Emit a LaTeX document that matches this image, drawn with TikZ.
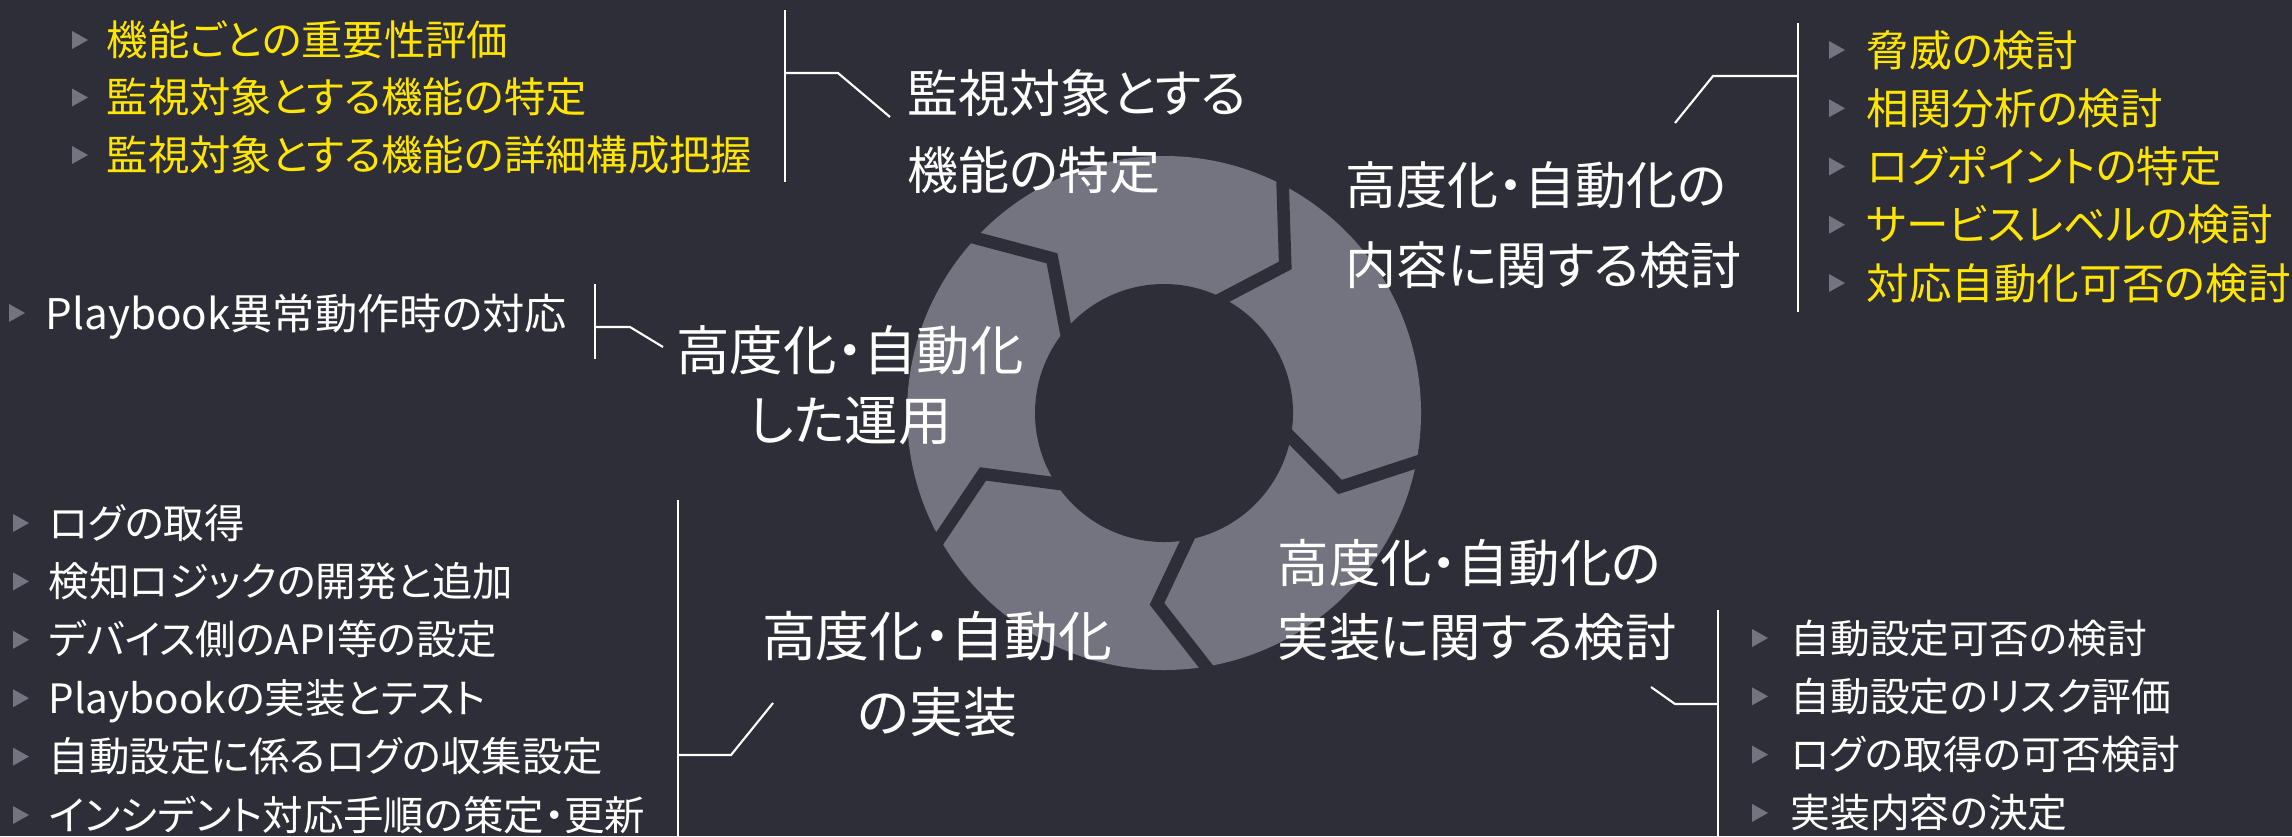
\documentclass[tikz,border=0pt]{standalone}
\usepackage{fontspec}
\usetikzlibrary{calc}
\newfontfamily\jp[RawFeature=+palt]{Noto Sans CJK JP}
\definecolor{bgdark}{HTML}{2E2E38}
\definecolor{ringgray}{HTML}{747480}
\definecolor{eyyellow}{HTML}{FFE600}
\tikzset{
  item/.style={anchor=base west, inner sep=0pt},
  yitem/.style={item, text=eyyellow},
  witem/.style={item, text=white},
  mainlabel/.style={text=white, inner sep=0pt},
  conn/.style={draw=white, line width=0.6pt},
  gapline/.style={draw=bgdark, line width=3.56pt, line join=miter},
  bullet/.pic={\fill[ringgray] (0,9) -- (16,0) -- (0,-9) -- cycle;}
}
\begin{document}
\begin{tikzpicture}[x=0.01cm,y=0.01cm]
\fill[bgdark] (0,0) rectangle (2292,-836);
\useasboundingbox (0,0) rectangle (2292,-836);

% ring
\coordinate (c) at (1164,-413);
\fill[ringgray] (c) circle[radius=257];
\fill[bgdark] (c) circle[radius=129];
\foreach \o/\m/\i [count=\k] in {62.5/50.6/62.9, -11/-22.8/-10.8, -80.6/-92.1/-79.6, -150.8/-161.4/-146.9, 137.1/125.9/139.7}{
  \coordinate (go\k) at ($(c)+(\o:257)$);
  \coordinate (gm\k) at ($(c)+(\m:191)$);
  \coordinate (gi\k) at ($(c)+(\i:129)$);
  \draw[gapline] ($(gm\k)!1.5!(go\k)$) -- (gm\k) -- ($(gm\k)!1.6!(gi\k)$);
}

% main labels
\node[mainlabel, anchor=west, align=left, font=\jp\fontsize{14.5pt}{21.9pt}\selectfont] (l1) at (907,-131.5) {監視対象とする\\機能の特定};
\node[mainlabel, anchor=west, align=left, font=\jp\fontsize{14.5pt}{22.8pt}\selectfont] (l2) at (1345,-225) {高度化・自動化の\\内容に関する検討};
\node[mainlabel, anchor=center, align=center, font=\jp\fontsize{15.2pt}{19.9pt}\selectfont] (l3) at (850,-385) {高度化・自動化\\した運用};
\node[mainlabel, anchor=center, align=center, font=\jp\fontsize{15.3pt}{21.6pt}\selectfont] (l4) at (937,-674) {高度化・自動化\\の実装};
\node[mainlabel, anchor=west, align=left, font=\jp\fontsize{14.6pt}{21pt}\selectfont] (l5) at (1277,-600) {高度化・自動化の\\実装に関する検討};

% top-left list
\foreach \t [count=\k] in {機能ごとの重要性評価, 監視対象とする機能の特定, 監視対象とする機能の詳細構成把握}{
  \pgfmathsetmacro{\yy}{-40-57.5*(\k-1)}
  \pic at (72,\yy) {bullet};
  \node[yitem, font=\jp\fontsize{11.75pt}{14pt}\selectfont] (a\k) at (106,\yy-15) {\t};
}
% top-right list
\foreach \t [count=\k] in {脅威の検討, 相関分析の検討, ログポイントの特定, サービスレベルの検討, 対応自動化可否の検討}{
  \pgfmathsetmacro{\yy}{-50-58.25*(\k-1)}
  \pic at (1829,\yy) {bullet};
  \node[yitem, font=\jp\fontsize{12.1pt}{14pt}\selectfont] (b\k) at (1866,\yy-16) {\t};
}
% left-middle
\pic at (9,-313) {bullet};
\node[witem, font=\jp\fontsize{12pt}{14pt}\selectfont] (p1) at (45,-329) {Playbook異常動作時の対応};
% bottom-left list
\foreach \t [count=\k] in {ログの取得, 検知ロジックの開発と追加, デバイス側のAPI等の設定, Playbookの実装とテスト, 自動設定に係るログの収集設定, インシデント対応手順の策定・更新}{
  \pgfmathsetmacro{\yy}{-523-58.4*(\k-1)}
  \pic at (13,\yy) {bullet};
  \node[witem, font=\jp\fontsize{11.5pt}{14pt}\selectfont] (d\k) at (48,\yy-15) {\t};
}
% bottom-right list
\foreach \t [count=\k] in {自動設定可否の検討, 自動設定のリスク評価, ログの取得の可否検討, 実装内容の決定}{
  \pgfmathsetmacro{\yy}{-638-58.3*(\k-1)}
  \pic at (1752,\yy) {bullet};
  \node[witem, font=\jp\fontsize{11.3pt}{14pt}\selectfont] (e\k) at (1790,\yy-15) {\t};
}

% connectors
\coordinate (c1t) at (785,-10);   \coordinate (c1b) at (785,-182);
\coordinate (c1j) at (785,-73);   \coordinate (c1k) at (838,-73);  \coordinate (c1e) at (890,-117);
\draw[conn] (c1t) -- (c1b);
\draw[conn] (c1j) -- (c1k) -- (c1e);

\coordinate (c2t) at (1798,-23);  \coordinate (c2b) at (1798,-312);
\coordinate (c2j) at (1798,-76);  \coordinate (c2k) at (1713,-76); \coordinate (c2e) at (1675,-123);
\draw[conn] (c2t) -- (c2b);
\draw[conn] (c2j) -- (c2k) -- (c2e);

\coordinate (c3t) at (595,-284);  \coordinate (c3b) at (595,-359);
\coordinate (c3j) at (595,-327);  \coordinate (c3k) at (630,-327); \coordinate (c3e) at (663,-347);
\draw[conn] (c3t) -- (c3b);
\draw[conn] (c3j) -- (c3k) -- (c3e);

\coordinate (c4t) at (678,-500);  \coordinate (c4b) at (678,-836);
\coordinate (c4j) at (678,-755);  \coordinate (c4k) at (731,-755); \coordinate (c4e) at (773,-703);
\draw[conn] (c4t) -- (c4b);
\draw[conn] (c4j) -- (c4k) -- (c4e);

\coordinate (c5t) at (1718,-610); \coordinate (c5b) at (1718,-836);
\coordinate (c5j) at (1718,-704); \coordinate (c5k) at (1675,-704); \coordinate (c5e) at (1651,-687);
\draw[conn] (c5t) -- (c5b);
\draw[conn] (c5j) -- (c5k) -- (c5e);
\end{tikzpicture}
\end{document}
